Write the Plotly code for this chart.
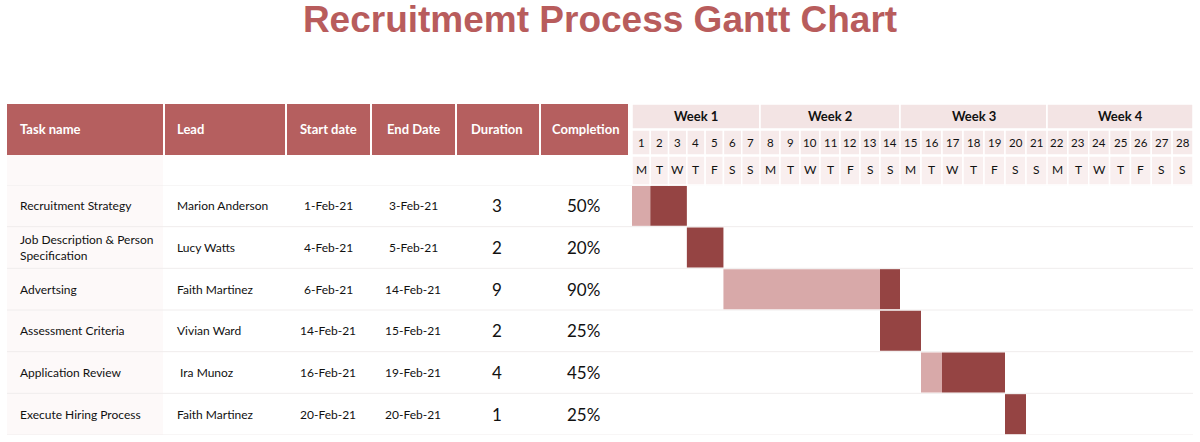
import plotly.graph_objects as go

# ---------------- data ----------------
tasks = ["Recruitment Strategy", "Job Description & Person<br>Specification", "Advertsing",
         "Assessment Criteria", "Application Review", "Execute Hiring Process"]
leads = ["Marion Anderson", "Lucy Watts", "Faith Martinez", "Vivian Ward", "\u00a0Ira Munoz", "Faith Martinez"]
start_dates = ["1-Feb-21", "4-Feb-21", "6-Feb-21", "14-Feb-21", "16-Feb-21", "20-Feb-21"]
end_dates = ["3-Feb-21", "5-Feb-21", "14-Feb-21", "15-Feb-21", "19-Feb-21", "20-Feb-21"]
start_day = [1, 4, 6, 14, 16, 20]
durations = [3, 2, 9, 2, 4, 1]
completion = ["50%", "20%", "90%", "25%", "45%", "25%"]
light_days = [1, 0, 8, 0, 1, 0]
dark_days = [2, 2, 1, 2, 3, 1]
headers = ["Task name", "Lead", "Start date", "End Date", "Duration", "Completion"]
weeks = ["Week 1", "Week 2", "Week 3", "Week 4"]
day_numbers = [1, 2, 3, 4, 5, 6, 7, 8, 9, 10, 11, 12, 13, 14,
               15, 16, 17, 18, 19, 20, 21, 22, 23, 24, 25, 26, 27, 28]
day_letters = ["M", "T", "W", "T", "F", "S", "S", "M", "T", "W", "T", "F", "S", "S",
               "M", "T", "W", "T", "F", "S", "S", "M", "T", "W", "T", "F", "S", "S"]
title = "Recruitmemt Process Gantt Chart"

# ---------------- styling / layout ----------------
W, H = 1200, 442
def px(x):
    return x / W
def py(y):
    return 1 - y / H

RED = "#b55f5f"
DARK = "#954443"
LIGHT = "#d8a9a9"
FONT = "Lato"

table_cols = [(7, 163), (165, 285), (287, 370), (372, 455), (457, 539), (541, 628)]
head_pos = [("left", 18), ("left", 175), ("center", 328), ("center", 413), ("center", 497), ("center", 585)]
body_pos = [("left", 18), ("left", 175), ("center", 328), ("center", 413), ("center", 497), ("center", 583)]
week_dom = [(632, 760), (760, 900), (900, 1047), (1047, 1193)]
axis_ids = ["x", "x2", "x3", "x4"]
rows = list(range(len(tasks)))

fig = go.Figure()

# bars: same series drawn on each week axis (clipped to each week's range)
for k, ax in enumerate(axis_ids):
    fig.add_trace(go.Bar(
        orientation="h", y=rows, x=light_days, base=[s - 0.5 for s in start_day],
        marker=dict(color=LIGHT, line=dict(width=0)), width=0.96,
        xaxis=ax, yaxis="y", showlegend=False, hoverinfo="skip"))
    fig.add_trace(go.Bar(
        orientation="h", y=rows, x=dark_days,
        base=[s - 0.5 + l for s, l in zip(start_day, light_days)],
        marker=dict(color=DARK, line=dict(width=0)), width=0.96,
        xaxis=ax, yaxis="y", showlegend=False, hoverinfo="skip"))

layout_axes = {}
for k, ax in enumerate(axis_ids):
    name = "xaxis" if k == 0 else "xaxis%d" % (k + 1)
    d0, d1 = week_dom[k]
    layout_axes[name] = dict(domain=[px(d0), px(d1)], range=[0.5 + 7 * k, 7.5 + 7 * k],
                             visible=False, anchor="y", fixedrange=True)

shapes = []
annotations = []

# task column tint
shapes.append(dict(type="rect", xref="paper", yref="paper", x0=px(7), x1=px(163),
                   y0=py(155), y1=py(435), fillcolor="#fdf9f9", line=dict(width=0), layer="below"))
# row separators
for b in range(len(tasks) + 1):
    shapes.append(dict(type="line", xref="paper", yref="y", x0=px(7), x1=px(1193),
                       y0=b - 0.5, y1=b - 0.5, line=dict(color="#f0eded", width=1), layer="below"))

# table header
for (x0, x1), h, (al, hx) in zip(table_cols, headers, head_pos):
    shapes.append(dict(type="rect", xref="paper", yref="paper", x0=px(x0), x1=px(x1),
                       y0=py(155), y1=py(104), fillcolor=RED, line=dict(width=0)))
    annotations.append(dict(xref="paper", yref="paper", x=px(hx), y=py(129), text=h,
                            showarrow=False, xanchor=al, yanchor="middle",
                            font=dict(family=FONT, size=13, color="white", weight="bold")))

# week header cells
for k, (ax, w) in enumerate(zip(axis_ids, weeks)):
    shapes.append(dict(type="rect", xref=ax + " domain", yref="paper", x0=0, x1=1,
                       y0=py(129), y1=py(104), fillcolor="#f3e4e4",
                       line=dict(color="white", width=1.5)))
    annotations.append(dict(xref=ax + " domain", yref="paper", x=0.5, y=py(116), text=w,
                            showarrow=False, xanchor="center", yanchor="middle",
                            font=dict(family=FONT, size=13, color="#111", weight="bold")))

# day cells
for d, letter in zip(day_numbers, day_letters):
    ax = axis_ids[(d - 1) // 7]
    shapes.append(dict(type="rect", xref=ax, yref="paper", x0=d - 0.5, x1=d + 0.5,
                       y0=py(155), y1=py(130), fillcolor="#f6eaea",
                       line=dict(color="white", width=1.5)))
    shapes.append(dict(type="rect", xref=ax, yref="paper", x0=d - 0.5, x1=d + 0.5,
                       y0=py(185), y1=py(156), fillcolor="#f9efef",
                       line=dict(color="white", width=1.5)))
    annotations.append(dict(xref=ax, yref="paper", x=d, y=py(143), text=str(d),
                            showarrow=False, xanchor="center", yanchor="middle",
                            font=dict(family=FONT, size=11.5, color="#111")))
    annotations.append(dict(xref=ax, yref="paper", x=d, y=py(170), text=letter,
                            showarrow=False, xanchor="center", yanchor="middle",
                            font=dict(family=FONT, size=12, color="#111")))

# table body
columns = [tasks, leads, start_dates, end_dates, [str(v) for v in durations], completion]
sizes = [12, 12, 12, 12, 17, 17]
for c, (vals, (al, cx)) in enumerate(zip(columns, body_pos)):
    for r, v in zip(rows, vals):
        annotations.append(dict(xref="paper", yref="y", x=px(cx), y=r, text=v,
                                showarrow=False, xanchor=al, yanchor="middle", align=al,
                                font=dict(family=FONT, size=sizes[c], color="#111")))

fig.update_layout(
    width=W, height=H, margin=dict(l=0, r=0, t=0, b=0),
    paper_bgcolor="white", plot_bgcolor="rgba(0,0,0,0)",
    barmode="overlay", showlegend=False,
    title=dict(text=title, x=0.5, xanchor="center", y=py(19), yanchor="middle",
               yref="container",
               font=dict(family="Liberation Sans", size=37, color="#b85c5c", weight="bold")),
    yaxis=dict(domain=[py(435), py(185)], range=[len(tasks) - 0.5, -0.5], visible=False,
               anchor="x", fixedrange=True),
    shapes=shapes, annotations=annotations,
    **layout_axes,
)

fig.write_html("out.html")
